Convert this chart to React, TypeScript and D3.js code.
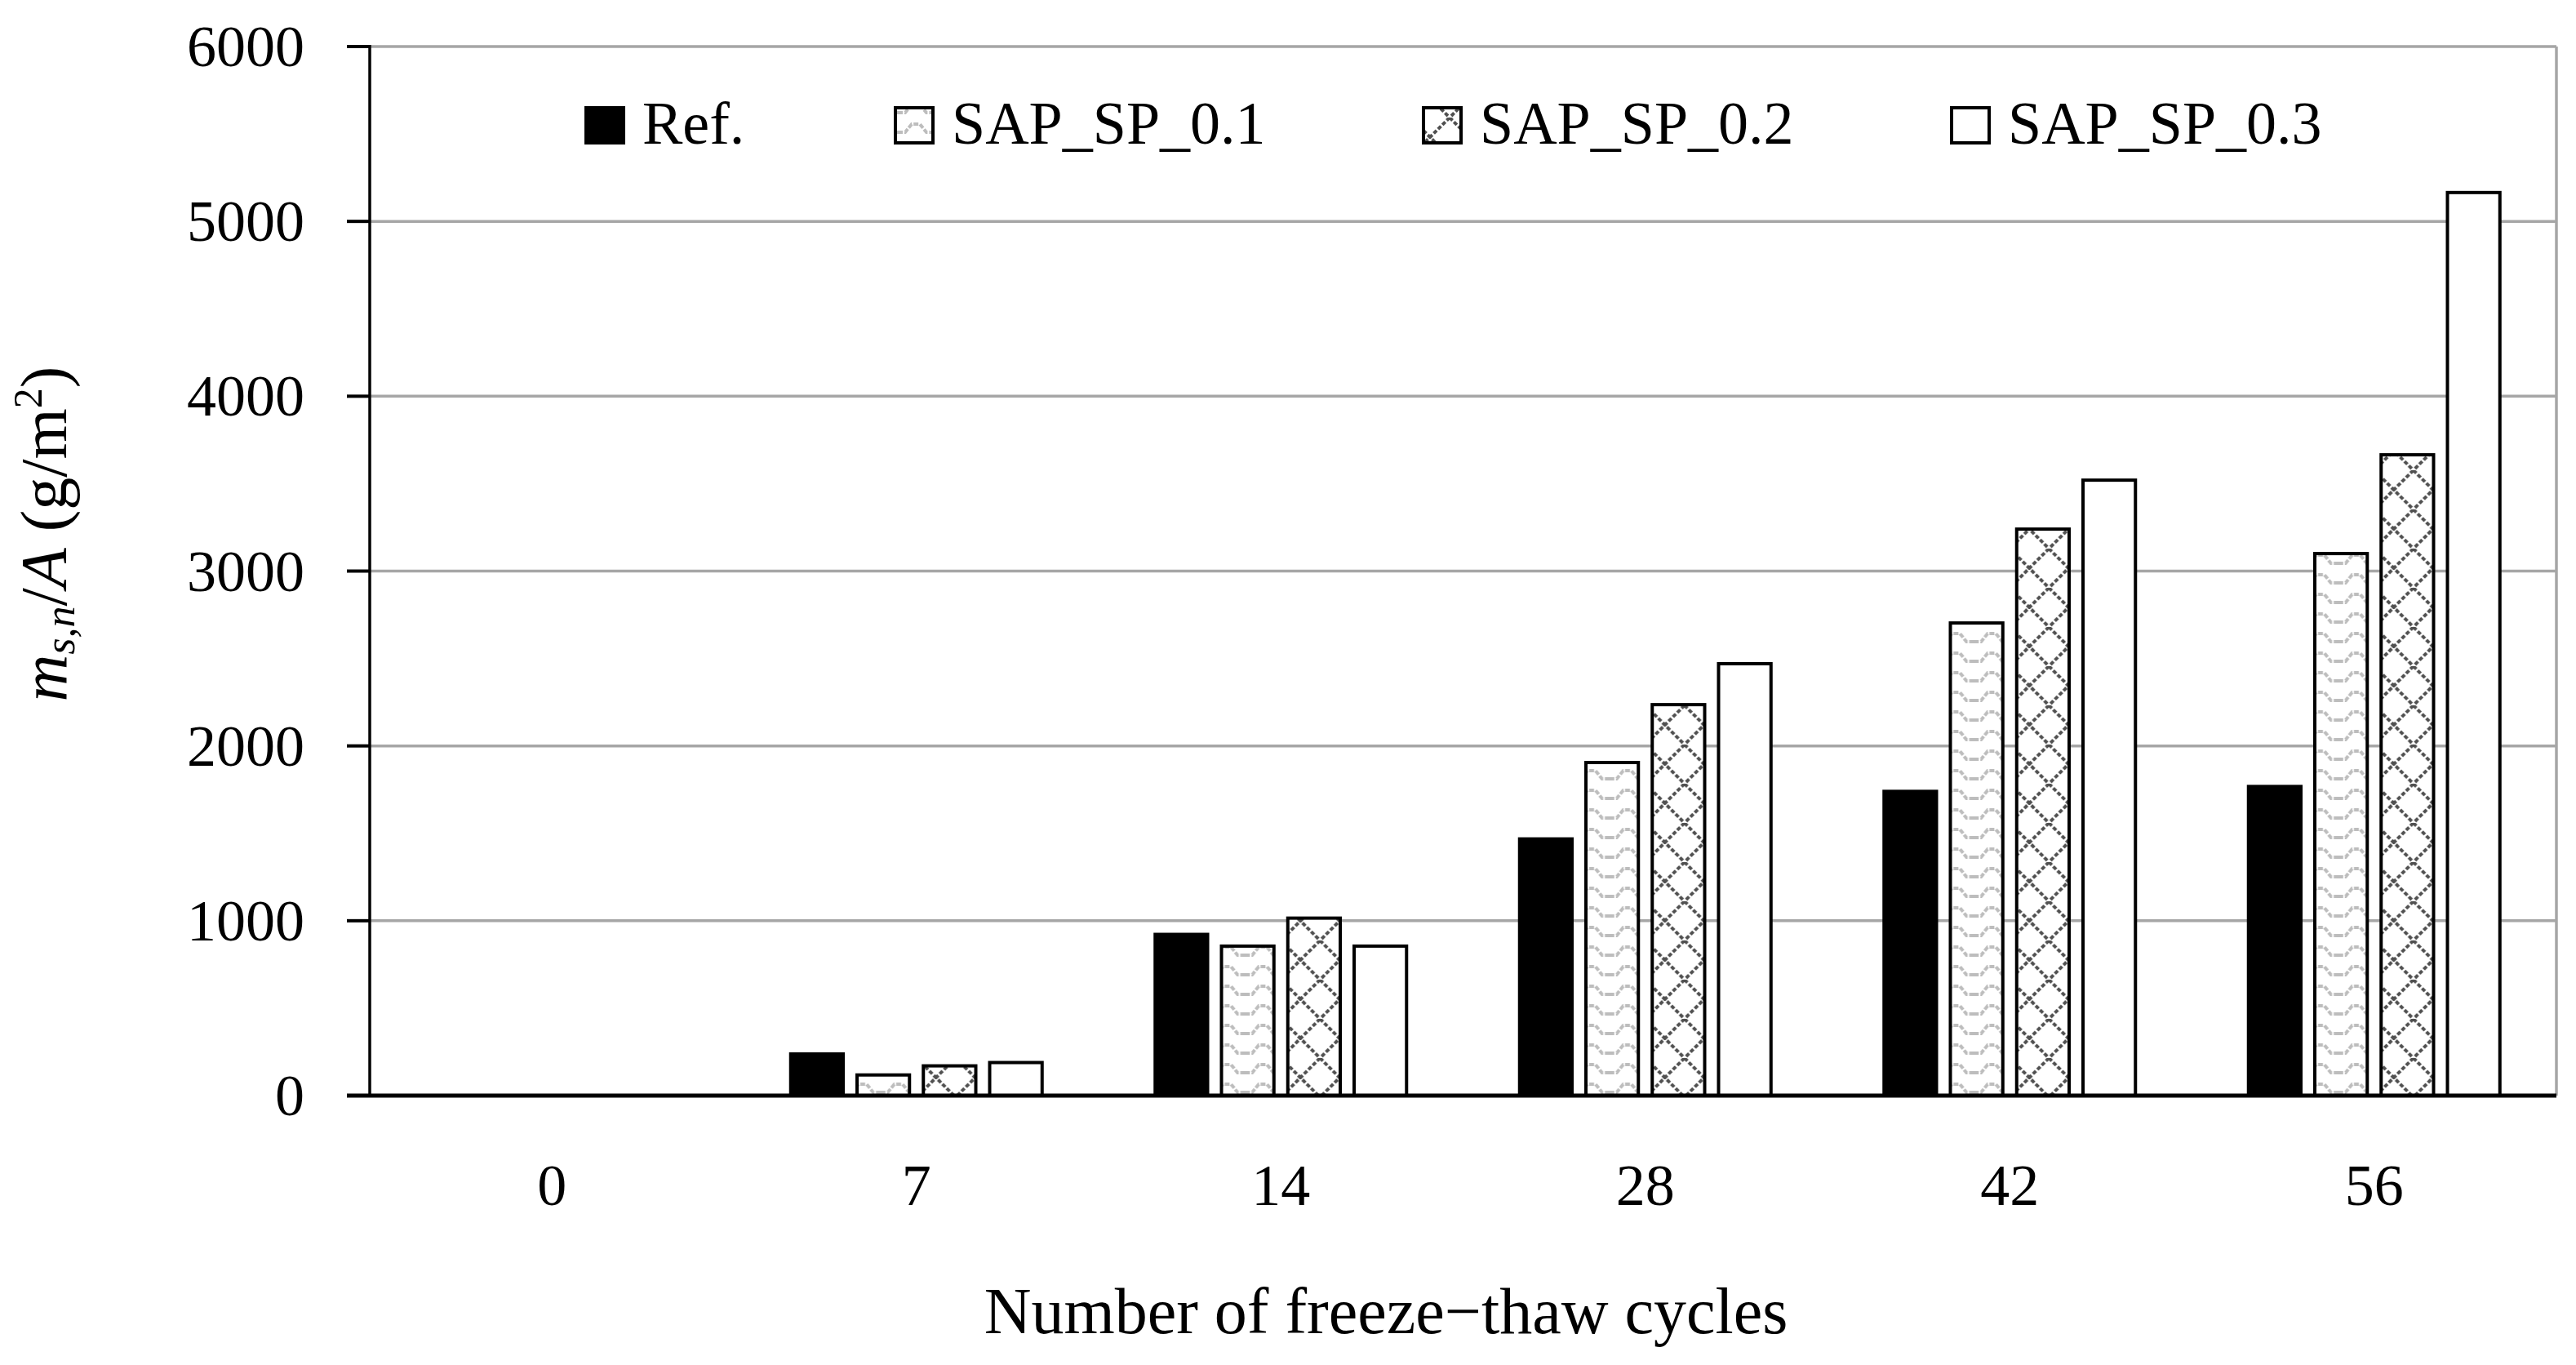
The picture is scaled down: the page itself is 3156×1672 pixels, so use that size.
import React from "react";
import * as d3 from "d3";

const categories = ["0", "7", "14", "28", "42", "56"];
const seriesNames = ["Ref.", "SAP_SP_0.1", "SAP_SP_0.2", "SAP_SP_0.3"];
const refValues = [0, 238, 922, 1468, 1740, 1768];
const sap01Values = [0, 118, 855, 1905, 2703, 3100];
const sap02Values = [0, 170, 1015, 2236, 3240, 3665];
const sap03Values = [0, 189, 855, 2470, 3520, 5165];
const yTicks = [0, 1000, 2000, 3000, 4000, 5000, 6000];

const W = 3156;
const H = 1672;
const plotLeft = 453;
const plotRight = 3132;
const plotTop = 57;
const plotBottom = 1342;
const FONT = "'Liberation Serif', 'Times New Roman', serif";
const FS = 72;

const fills = ["#000000", "url(#wave)", "url(#lattice)", "#ffffff"];
const legendX = [716, 1095, 1742, 2389];

export default function App() {
  const seriesValues = [refValues, sap01Values, sap02Values, sap03Values];
  const x0 = d3.scaleBand<string>().domain(categories).range([plotLeft, plotRight]).padding(0);
  const x1 = d3.scaleBand<string>().domain(seriesNames).range([-156, 156]).paddingInner(0.16).paddingOuter(0);
  const y = d3.scaleLinear().domain([0, 6000]).range([plotBottom, plotTop]);

  return (
    <svg
      width={W}
      height={H}
      viewBox={`0 0 ${W} ${H}`}
      style={{ position: "absolute", left: 0, top: 0, background: "#fff" }}
      fontFamily={FONT}
    >
      <defs>
        <pattern id="wave" patternUnits="userSpaceOnUse" width={44} height={24}>
          <rect width={44} height={24} fill="#fff" />
          <path d="M0,18 L9,18 L17,8 L27,8 L35,18 L44,18" fill="none" stroke="#bdbdbd" strokeWidth={4} strokeDasharray="6 2" />
        </pattern>
        <pattern id="lattice" patternUnits="userSpaceOnUse" width={48} height={48}>
          <rect width={48} height={48} fill="#fff" />
          <path d="M0,0 L48,48 M48,0 L0,48" fill="none" stroke="#505050" strokeWidth={4} strokeDasharray="5 2.5" />
        </pattern>
      </defs>

      <rect x={0} y={0} width={W} height={H} fill="#fff" />

      {/* gridlines */}
      {yTicks.filter((t) => t > 0).map((t) => (
        <line key={"g" + t} x1={plotLeft} x2={plotRight} y1={y(t)} y2={y(t)} stroke="#a6a6a6" strokeWidth={3.5} />
      ))}
      <line x1={plotRight} x2={plotRight} y1={plotTop} y2={plotBottom} stroke="#a6a6a6" strokeWidth={3.5} />

      {/* bars */}
      {categories.map((c, ci) => (
        <g key={"c" + c} transform={`translate(${(x0(c) ?? 0) + x0.bandwidth() / 2},0)`}>
          {seriesNames.map((s, si) => {
            const v = seriesValues[si][ci];
            if (v <= 0) return null;
            const bx = x1(s) ?? 0;
            return (
              <rect
                key={s}
                x={bx + 2}
                y={y(v)}
                width={x1.bandwidth() - 4}
                height={plotBottom - y(v)}
                fill={fills[si]}
                stroke="#000"
                strokeWidth={4}
              />
            );
          })}
        </g>
      ))}

      {/* axes */}
      <line x1={plotLeft} x2={plotLeft} y1={plotTop - 2} y2={plotBottom} stroke="#000" strokeWidth={3.5} />
      {yTicks.map((t) => (
        <g key={"t" + t}>
          <line x1={plotLeft - 28} x2={plotLeft} y1={y(t)} y2={y(t)} stroke="#000" strokeWidth={4} />
          <text x={373} y={y(t) + 24} textAnchor="end" fontSize={FS} fill="#000">
            {t}
          </text>
        </g>
      ))}
      <line x1={plotLeft - 28} x2={plotRight} y1={plotBottom} y2={plotBottom} stroke="#000" strokeWidth={5} />

      {categories.map((c) => (
        <text key={"x" + c} x={(x0(c) ?? 0) + x0.bandwidth() / 2} y={1476} textAnchor="middle" fontSize={FS} fill="#000">
          {c}
        </text>
      ))}

      {/* axis titles */}
      <text x={1698} y={1633} textAnchor="middle" fontSize={80} fill="#000">
        Number of freeze−thaw cycles
      </text>
      <text transform="translate(81,654) rotate(-90)" textAnchor="middle" fontSize={80} fill="#000">
        <tspan fontStyle="italic">m</tspan>
        <tspan fontStyle="italic" fontSize={52} dy={10}>s,n</tspan>
        <tspan dy={-10}>/</tspan>
        <tspan fontStyle="italic">A</tspan>
        <tspan> (g/m</tspan>
        <tspan fontSize={50} dy={-30}>2</tspan>
        <tspan dy={30}>)</tspan>
      </text>

      {/* legend */}
      {seriesNames.map((s, si) => (
        <g key={"l" + s}>
          <rect x={legendX[si] + 2} y={132} width={46} height={43} fill={fills[si]} stroke="#000" strokeWidth={4} />
          <text x={legendX[si] + 71} y={176} fontSize={FS + 2} fill="#000">
            {s}
          </text>
        </g>
      ))}
    </svg>
  );
}
